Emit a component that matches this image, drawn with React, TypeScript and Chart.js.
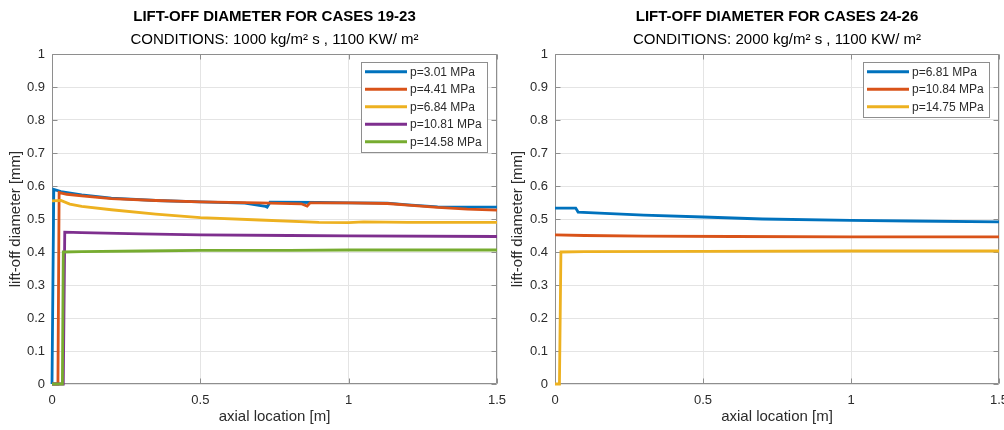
import React, { useEffect, useRef } from "react";
import { Chart, registerables } from "chart.js";

Chart.register(...registerables);

const FONT = "'Liberation Sans', Arial, Helvetica, sans-serif";
const COLORS = ["#0072BD", "#D95319", "#EDB120", "#7E2F8E", "#77AC30"];

// Axis ticks
const xTickValues = [0, 0.5, 1, 1.5];
const xTickLabels = ["0", "0.5", "1", "1.5"];
const yTickValues = [0, 0.1, 0.2, 0.3, 0.4, 0.5, 0.6, 0.7, 0.8, 0.9, 1];
const yTickLabels = ["0", "0.1", "0.2", "0.3", "0.4", "0.5", "0.6", "0.7", "0.8", "0.9", "1"];
const xAxisTitle = "axial location [m]";
const yAxisTitle = "lift-off diameter [mm]";

// ---------- Left chart: cases 19-23 ----------
const leftTitle = "LIFT-OFF DIAMETER FOR CASES 19-23";
const leftSubtitle = "CONDITIONS: 1000 kg/m² s , 1100 KW/ m²";
const leftLabels = ["p=3.01 MPa", "p=4.41 MPa", "p=6.84 MPa", "p=10.81 MPa", "p=14.58 MPa"];

const x301 = [0, 0.006, 0.03, 0.1, 0.2, 0.35, 0.5, 0.65, 0.72, 0.725, 0.735, 0.9, 1.0, 1.13, 1.2, 1.3, 1.5];
const y301 = [0, 0.59, 0.583, 0.573, 0.563, 0.556, 0.552, 0.548, 0.538, 0.536, 0.551, 0.55, 0.549, 0.548, 0.543, 0.537, 0.536];

const x441 = [0, 0.02, 0.024, 0.05, 0.1, 0.2, 0.35, 0.5, 0.7, 0.84, 0.86, 0.87, 1.0, 1.13, 1.2, 1.3, 1.4, 1.5];
const y441 = [0, 0, 0.58, 0.575, 0.57, 0.562, 0.556, 0.552, 0.549, 0.546, 0.539, 0.549, 0.549, 0.547, 0.542, 0.535, 0.53, 0.527];

const x684 = [0, 0.03, 0.06, 0.1, 0.2, 0.35, 0.5, 0.7, 0.9, 1.0, 1.05, 1.2, 1.5];
const y684 = [0.555, 0.556, 0.545, 0.538, 0.528, 0.515, 0.504, 0.497, 0.49, 0.489, 0.491, 0.49, 0.49];

const x1081 = [0, 0.038, 0.043, 0.1, 0.3, 0.5, 0.8, 1.0, 1.5];
const y1081 = [0, 0, 0.46, 0.459, 0.455, 0.452, 0.45, 0.449, 0.447];

const x1458 = [0, 0.035, 0.038, 0.1, 0.3, 0.5, 0.8, 1.0, 1.5];
const y1458 = [0, 0, 0.4, 0.401, 0.403, 0.405, 0.405, 0.406, 0.406];

// ---------- Right chart: cases 24-26 ----------
const rightTitle = "LIFT-OFF DIAMETER FOR CASES 24-26";
const rightSubtitle = "CONDITIONS: 2000 kg/m² s , 1100 KW/ m²";
const rightLabels = ["p=6.81 MPa", "p=10.84 MPa", "p=14.75 MPa"];

const x681 = [0, 0.07, 0.078, 0.15, 0.3, 0.5, 0.7, 1.0, 1.2, 1.5];
const y681 = [0.533, 0.533, 0.521, 0.518, 0.512, 0.506, 0.5, 0.496, 0.494, 0.491];

const x1084 = [0, 0.1, 0.3, 0.6, 1.0, 1.5];
const y1084 = [0.452, 0.45, 0.448, 0.447, 0.446, 0.446];

const x1475 = [0, 0.015, 0.02, 0.1, 0.5, 1.0, 1.5];
const y1475 = [0, 0, 0.4, 0.401, 0.402, 0.403, 0.403];

const leftSeries = [
  [x301, y301],
  [x441, y441],
  [x684, y684],
  [x1081, y1081],
  [x1458, y1458],
];
const rightSeries = [
  [x681, y681],
  [x1084, y1084],
  [x1475, y1475],
];

const AXIS_COLOR = "#8e8e8e";
const GRID_COLOR = "#e4e4e4";
const TEXT_COLOR = "#2b2b2b";

const framePlugin = {
  id: "matlabFrame",
  beforeDatasetsDraw(chart: any) {
    const { ctx, chartArea } = chart;
    const { left, right, top, bottom } = chartArea;
    const L = Math.round(left) + 0.5;
    const R = Math.round(right) - 0.5;
    const T = Math.round(top) + 0.5;
    const B = Math.round(bottom) - 0.5;
    ctx.save();
    ctx.strokeStyle = AXIS_COLOR;
    ctx.lineWidth = 1;
    ctx.beginPath();
    ctx.rect(L, T, R - L, B - T);
    const tl = 5;
    const xs = chart.scales.x;
    xs.ticks.forEach((t: any) => {
      const px = Math.round(xs.getPixelForValue(t.value)) + 0.5;
      ctx.moveTo(px, B);
      ctx.lineTo(px, B - tl);
      ctx.moveTo(px, T);
      ctx.lineTo(px, T + tl);
    });
    const ys = chart.scales.y;
    ys.ticks.forEach((t: any) => {
      const py = Math.round(ys.getPixelForValue(t.value)) + 0.5;
      ctx.moveTo(L, py);
      ctx.lineTo(L + tl, py);
      ctx.moveTo(R, py);
      ctx.lineTo(R - tl, py);
    });
    ctx.stroke();
    ctx.restore();
  },
};

const legendPlugin = {
  id: "boxLegend",
  afterDatasetsDraw(chart: any) {
    const { ctx, chartArea } = chart;
    const ds = chart.data.datasets;
    ctx.save();
    ctx.font = `12px ${FONT}`;
    const maxW = Math.max(...ds.map((d: any) => ctx.measureText(d.label).width));
    const rowH = 17.5;
    const padL = 4;
    const lineLen = 42;
    const gap = 3;
    const padR = 5;
    const w = Math.round(padL + lineLen + gap + maxW + padR);
    const h = Math.round(ds.length * rowH + 2);
    const right = Math.round(chartArea.right) - 10;
    const top = Math.round(chartArea.top) + 8;
    const left = right - w;
    ctx.fillStyle = "#ffffff";
    ctx.fillRect(left, top, w, h);
    ctx.strokeStyle = AXIS_COLOR;
    ctx.lineWidth = 1;
    ctx.strokeRect(left + 0.5, top + 0.5, w, h);
    ds.forEach((d: any, i: number) => {
      const cy = top + 1 + rowH * (i + 0.5);
      ctx.strokeStyle = d.borderColor;
      ctx.lineWidth = 2.8;
      ctx.beginPath();
      ctx.moveTo(left + padL, cy);
      ctx.lineTo(left + padL + lineLen, cy);
      ctx.stroke();
      ctx.fillStyle = TEXT_COLOR;
      ctx.textBaseline = "middle";
      ctx.textAlign = "left";
      ctx.fillText(d.label, left + padL + lineLen + gap, cy + 0.5);
    });
    ctx.restore();
  },
};

type PanelProps = {
  title: string;
  subtitle: string;
  labels: string[];
  series: number[][][];
  yAxisWidth: number;
  left: number;
};

function Panel({ title, subtitle, labels, series, yAxisWidth, left }: PanelProps) {
  const ref = useRef<HTMLCanvasElement | null>(null);
  useEffect(() => {
    if (!ref.current) return;
    const n = series.length;
    const chart = new Chart(ref.current, {
      type: "line",
      data: {
        datasets: series.map(([xs, ys], i) => ({
          label: labels[i],
          data: xs.map((x, j) => ({ x, y: ys[j] })),
          borderColor: COLORS[i],
          backgroundColor: COLORS[i],
          borderWidth: 2.8,
          pointRadius: 0,
          tension: 0,
          fill: false,
          clip: false as any,
          order: n - i,
        })),
      },
      options: {
        responsive: false,
        animation: false,
        devicePixelRatio: 1,
        parsing: false as any,
        normalized: true,
        events: [],
        layout: { padding: { left: 0, right: 23, top: 0, bottom: 0 } },
        plugins: {
          legend: { display: false },
          tooltip: { enabled: false },
          title: {
            display: true,
            text: title,
            fullSize: false,
            color: "#000000",
            font: { family: FONT, size: 15, weight: "bold" },
            padding: { top: 8, bottom: 5 },
          },
          subtitle: {
            display: true,
            text: subtitle,
            fullSize: false,
            color: "#000000",
            font: { family: FONT, size: 15, weight: "normal" },
            padding: { top: 0, bottom: 5 },
          },
        },
        scales: {
          x: {
            type: "linear",
            min: 0,
            max: 1.5,
            afterFit: (s: any) => {
              s.height = 46;
            },
            afterBuildTicks: (s: any) => {
              s.ticks = xTickValues.map((v) => ({ value: v }));
            },
            ticks: {
              autoSkip: false,
              maxRotation: 0,
              padding: 9,
              color: TEXT_COLOR,
              font: { family: FONT, size: 13 },
              callback: (v: any) => {
                const k = xTickValues.indexOf(Number(v));
                return k >= 0 ? xTickLabels[k] : "";
              },
            },
            grid: { color: GRID_COLOR, lineWidth: 1, drawTicks: false },
            border: { display: false },
            title: {
              display: true,
              text: xAxisTitle,
              color: TEXT_COLOR,
              font: { family: FONT, size: 15 },
              padding: { top: 0, bottom: 4 },
            },
          },
          y: {
            type: "linear",
            min: 0,
            max: 1,
            afterFit: (s: any) => {
              s.width = yAxisWidth;
            },
            afterBuildTicks: (s: any) => {
              s.ticks = yTickValues.map((v) => ({ value: v }));
            },
            ticks: {
              autoSkip: false,
              padding: 7,
              color: TEXT_COLOR,
              font: { family: FONT, size: 13 },
              callback: (v: any) => {
                const k = yTickValues.indexOf(Number(v));
                return k >= 0 ? yTickLabels[k] : "";
              },
            },
            grid: { color: GRID_COLOR, lineWidth: 1, drawTicks: false },
            border: { display: false },
            title: {
              display: true,
              text: yAxisTitle,
              color: TEXT_COLOR,
              font: { family: FONT, size: 15 },
              padding: { top: 7, bottom: 0 },
            },
          },
        },
      } as any,
      plugins: [framePlugin, legendPlugin],
    });
    return () => chart.destroy();
  }, []);
  return (
    <div style={{ position: "absolute", left, top: 0, width: 520, height: 430 }}>
      <canvas ref={ref} width={520} height={430} style={{ display: "block" }} />
    </div>
  );
}

export default function App() {
  useEffect(() => {
    document.body.style.margin = "0";
    document.body.style.overflow = "hidden";
  }, []);
  return (
    <div
      style={{
        position: "relative",
        width: 1004,
        height: 430,
        overflow: "hidden",
        background: "#ffffff",
      }}
    >
      <Panel
        title={leftTitle}
        subtitle={leftSubtitle}
        labels={leftLabels}
        series={leftSeries}
        yAxisWidth={52}
        left={0}
      />
      <Panel
        title={rightTitle}
        subtitle={rightSubtitle}
        labels={rightLabels}
        series={rightSeries}
        yAxisWidth={53}
        left={502}
      />
    </div>
  );
}
